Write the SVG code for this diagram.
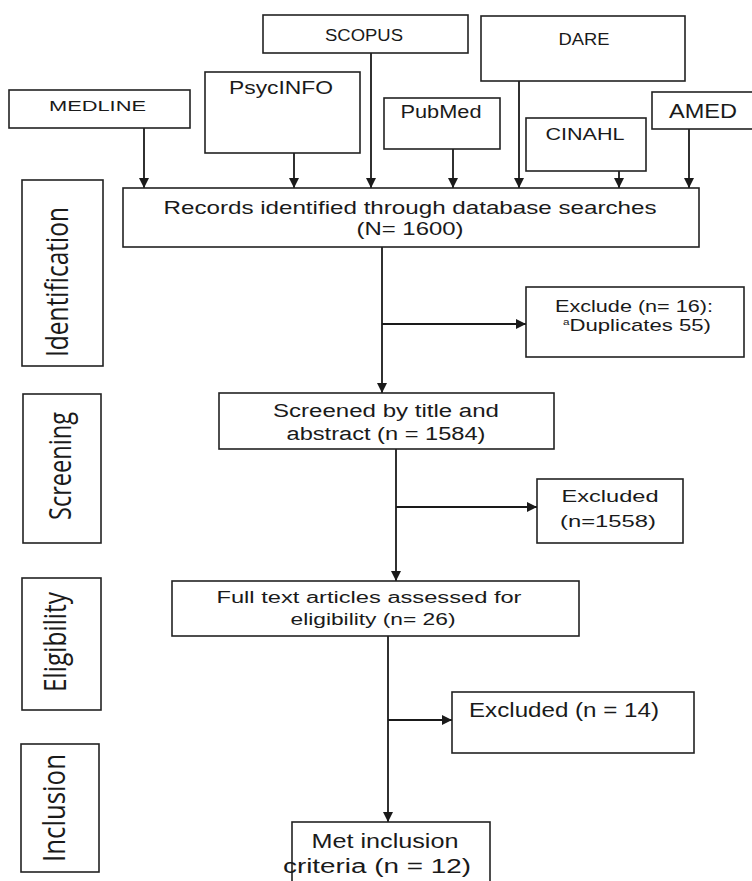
<svg xmlns="http://www.w3.org/2000/svg" width="752" height="881" viewBox="0 0 752 881">
<defs>
<marker id="arr" markerUnits="userSpaceOnUse" markerWidth="12" markerHeight="12" refX="10" refY="5" orient="auto">
<path d="M0,0 L10,5 L0,10 Z" fill="#1a1a1a"/>
</marker>
</defs>
<style>
rect{fill:#fff;stroke:#222;stroke-width:1.6}
text{font-family:"Liberation Sans",Arial,sans-serif;fill:#1a1a1a;text-anchor:middle}
.side{font-family:"Open Sans","DejaVu Sans",sans-serif;font-size:24px}
#connectors line{stroke:#1a1a1a;stroke-width:1.8;fill:none}
.a{marker-end:url(#arr)}
</style>
<rect x="0" y="0" width="752" height="881" style="fill:#fff;stroke:none"/>
<g id="connectors">
<line class="a" x1="144" y1="128" x2="144" y2="188"/>
<line class="a" x1="294" y1="153" x2="294" y2="188"/>
<line class="a" x1="371" y1="53" x2="371" y2="188"/>
<line class="a" x1="453" y1="149" x2="453" y2="188"/>
<line class="a" x1="519" y1="81" x2="519" y2="188"/>
<line class="a" x1="619" y1="171" x2="619" y2="188"/>
<line class="a" x1="689" y1="129" x2="689" y2="188"/>
<line class="a" x1="382" y1="247" x2="382" y2="393"/>
<line class="a" x1="382" y1="324" x2="526" y2="324"/>
<line class="a" x1="396" y1="449" x2="396" y2="581"/>
<line class="a" x1="396" y1="507" x2="537" y2="507"/>
<line class="a" x1="388" y1="636" x2="388" y2="822"/>
<line class="a" x1="388" y1="720" x2="452" y2="720"/>
</g>
<g id="scopus"><rect x="263" y="15" width="205" height="38"/><text x="364" y="41" font-size="16" textLength="78" lengthAdjust="spacingAndGlyphs">SCOPUS</text></g>
<g id="dare"><rect x="481" y="16" width="204" height="65"/><text x="584" y="45" font-size="17" textLength="51" lengthAdjust="spacingAndGlyphs">DARE</text></g>
<g id="medline"><rect x="9" y="90" width="181" height="38"/><text x="97.5" y="111" font-size="15.5" textLength="97" lengthAdjust="spacingAndGlyphs">MEDLINE</text></g>
<g id="psycinfo"><rect x="205" y="72" width="155" height="81"/><text x="281" y="94" font-size="17.5" textLength="104" lengthAdjust="spacingAndGlyphs">PsycINFO</text></g>
<g id="pubmed"><rect x="384" y="98" width="116" height="51"/><text x="441" y="118" font-size="18" textLength="81" lengthAdjust="spacingAndGlyphs">PubMed</text></g>
<g id="cinahl"><rect x="526" y="118" width="120" height="53"/><text x="585" y="140" font-size="17" textLength="79" lengthAdjust="spacingAndGlyphs">CINAHL</text></g>
<g id="amed"><rect x="652" y="92" width="102" height="37"/><text x="703" y="118" font-size="20.5" textLength="68" lengthAdjust="spacingAndGlyphs">AMED</text></g>
<g id="records"><rect x="123" y="188" width="576" height="59"/>
<text x="410" y="214" font-size="18.6" textLength="493" lengthAdjust="spacingAndGlyphs">Records identified through database searches</text>
<text x="410" y="235" font-size="18.6" textLength="107" lengthAdjust="spacingAndGlyphs">(N= 1600)</text></g>
<g id="exclude1"><rect x="526" y="287" width="218" height="70"/>
<text x="634" y="312" font-size="16" textLength="158" lengthAdjust="spacingAndGlyphs">Exclude (n= 16):</text>
<text x="637" y="331" font-size="17" textLength="148" lengthAdjust="spacingAndGlyphs"><tspan font-size="9" dy="-6">a</tspan><tspan dy="6">Duplicates 55)</tspan></text></g>
<g id="screened"><rect x="219" y="393" width="335" height="56"/>
<text x="386" y="417" font-size="18" textLength="226" lengthAdjust="spacingAndGlyphs">Screened by title and</text>
<text x="386" y="440" font-size="18" textLength="199" lengthAdjust="spacingAndGlyphs">abstract (n = 1584)</text></g>
<g id="excluded2"><rect x="537" y="479" width="146" height="64"/>
<text x="610" y="502" font-size="17" textLength="97" lengthAdjust="spacingAndGlyphs">Excluded</text>
<text x="608" y="527" font-size="17" textLength="96" lengthAdjust="spacingAndGlyphs">(n=1558)</text></g>
<g id="fulltext"><rect x="172" y="581" width="407" height="55"/>
<text x="369" y="603" font-size="16" textLength="305" lengthAdjust="spacingAndGlyphs">Full text articles assessed for</text>
<text x="373" y="625" font-size="16" textLength="165" lengthAdjust="spacingAndGlyphs">eligibility (n= 26)</text></g>
<g id="excluded3"><rect x="452" y="692" width="242" height="61"/>
<text x="564" y="717" font-size="19.5" textLength="190" lengthAdjust="spacingAndGlyphs">Excluded (n = 14)</text></g>
<g id="met"><rect x="292" y="822" width="198" height="70"/>
<text x="385" y="848" font-size="19.5" textLength="147" lengthAdjust="spacingAndGlyphs">Met inclusion</text>
<text x="377" y="873" font-size="19.5" textLength="188" lengthAdjust="spacingAndGlyphs">criteria (n = 12)</text></g>
<g id="identification"><rect x="22" y="180" width="81" height="186"/>
<text class="side" transform="translate(68,282) scale(1.3,1) rotate(-90)" textLength="150" lengthAdjust="spacingAndGlyphs">Identification</text></g>
<g id="screening"><rect x="23" y="394" width="78" height="149"/>
<text class="side" transform="translate(71,466) scale(1.3,1) rotate(-90)" textLength="108" lengthAdjust="spacingAndGlyphs">Screening</text></g>
<g id="eligibility"><rect x="22" y="578" width="79" height="132"/>
<text class="side" transform="translate(66,642) scale(1.3,1) rotate(-90)" textLength="100" lengthAdjust="spacingAndGlyphs">Eligibility</text></g>
<g id="inclusion"><rect x="21" y="744" width="78" height="128"/>
<text class="side" transform="translate(65,808) scale(1.3,1) rotate(-90)" textLength="108" lengthAdjust="spacingAndGlyphs">Inclusion</text></g>
</svg>
